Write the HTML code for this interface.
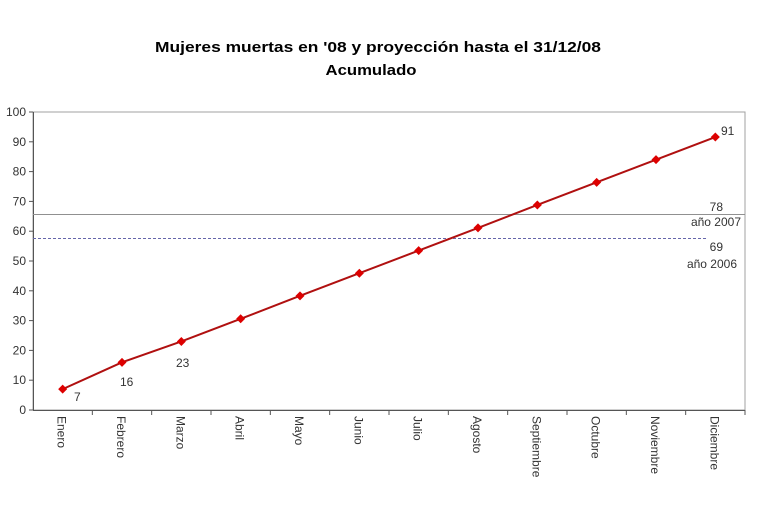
<!DOCTYPE html>
<html><head><style>body{margin:0;background:#fff}svg{display:block;font-family:"Liberation Sans",Arial,sans-serif}</style></head><body>
<svg width="768" height="511" xmlns="http://www.w3.org/2000/svg">
<text x="378" y="52" text-anchor="middle" font-size="15" font-weight="bold" textLength="446" lengthAdjust="spacingAndGlyphs">Mujeres muertas en '08 y proyección hasta el 31/12/08</text>
<text x="371" y="75" text-anchor="middle" font-size="15" font-weight="bold" textLength="91" lengthAdjust="spacingAndGlyphs">Acumulado</text>
<rect x="33" y="112" width="712" height="298" fill="none" stroke="#a0a0a0" stroke-width="1"/>
<g stroke="#555" stroke-width="1">
<line x1="33.5" y1="112" x2="33.5" y2="410"/>
<line x1="33" y1="410.5" x2="745" y2="410.5"/>
</g>
<g font-size="12" fill="#333" text-anchor="end" id="yl"></g>
<line x1="33" y1="214.5" x2="745" y2="214.5" stroke="#909090"/>
<line x1="33" y1="238.5" x2="708" y2="238.5" stroke="#6666aa" stroke-dasharray="3,2"/>
<g font-size="12" fill="#333" text-anchor="end">
<text x="723" y="211">78</text><text x="741" y="226">año 2007</text>
<text x="723" y="251">69</text><text x="737" y="268">año 2006</text>
</g>
<g id="g"></g>
<script>
var ns="http://www.w3.org/2000/svg",s=document.querySelector('svg'),yl=document.getElementById('yl'),g=document.getElementById('g');
function el(t,a,p,txt){var e=document.createElementNS(ns,t);for(var k in a)e.setAttribute(k,a[k]);if(txt!=null)e.textContent=txt;(p||s).appendChild(e);return e;}
for(var i=0;i<=10;i++){var y=410-i*29.8;el('line',{x1:29,x2:33,y1:y,y2:y,stroke:'#555'});el('text',{x:26,y:y+4},yl,i*10);}
var m=['Enero','Febrero','Marzo','Abril','Mayo','Junio','Julio','Agosto','Septiembre','Octubre','Noviembre','Diciembre'];
var v=[7,16,23,30.6,38.3,45.9,53.5,61.1,68.8,76.4,84,91.6],w=712/12,pts=[];
for(var i=0;i<12;i++){var x=33+w*(i+0.5);var tx=33+w*(i+1);el('line',{x1:tx,x2:tx,y1:410,y2:415,stroke:'#555'});
el('text',{x:0,y:0,transform:'translate('+(x-5)+',416) rotate(90)','font-size':12,fill:'#333'},s,m[i]);pts.push([x,410-v[i]*2.98]);}
el('polyline',{points:pts.map(function(p){return p.join(',')}).join(' '),fill:'none',stroke:'#b01010','stroke-width':2});
pts.forEach(function(p){el('polygon',{points:(p[0])+','+(p[1]-4.5)+' '+(p[0]+4.5)+','+p[1]+' '+p[0]+','+(p[1]+4.5)+' '+(p[0]-4.5)+','+p[1],fill:'#d00'});});
[['7',74,401],['16',120,386],['23',176,367],['91',721,135]].forEach(function(a){el('text',{x:a[1],y:a[2],'font-size':12,fill:'#333'},s,a[0]);});
</script>
</svg>
</body></html>
